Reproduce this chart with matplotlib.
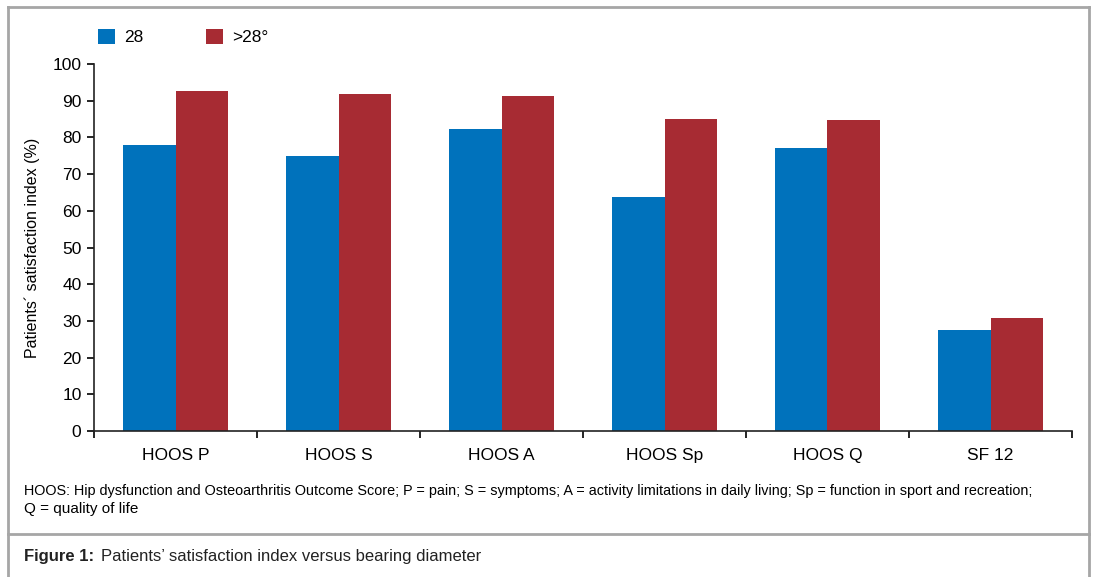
import numpy as np
import matplotlib
matplotlib.use('Agg')
import matplotlib.pyplot as plt
from matplotlib.lines import Line2D

plt.rcParams['font.family'] = ['Liberation Sans', 'DejaVu Sans']

categories = ['HOOS P', 'HOOS S', 'HOOS A', 'HOOS Sp', 'HOOS Q', 'SF 12']
vals_28 = [78, 75, 82.3, 63.8, 77.1, 27.5]
vals_gt28 = [92.6, 91.8, 91.3, 85.0, 84.7, 30.8]
series_names = ['28', '>28°']
yticks = list(range(0, 101, 10))

blue = '#0072BC'
red = '#A72B33'
border = '#A6A6A6'
W, H = 1093, 577

fig = plt.figure(figsize=(W / 100, H / 100), dpi=100)
ax = fig.add_axes([94 / W, 1 - 431 / H, (1072 - 94) / W, (431 - 64) / H])

x = np.arange(len(categories))
w = 0.325
ax.bar(x - w / 2, vals_28, w, color=blue, label=series_names[0])
ax.bar(x + w / 2, vals_gt28, w, color=red, label=series_names[1])

ax.set_xlim(-0.5, len(categories) - 0.5)
ax.set_ylim(0, 100)
ax.set_yticks(yticks)
ax.set_xticks(x)
ax.set_xticklabels(categories, fontsize=12.5, va='baseline')
ax.set_xticks(np.arange(-0.5, len(categories), 1), minor=True)
ax.tick_params(axis='x', which='major', length=0, pad=21)
ax.tick_params(axis='x', which='minor', length=5, width=1.2, direction='out')
ax.tick_params(axis='y', length=5, width=1.2, labelsize=12.5, pad=4)
for s in ['top', 'right']:
    ax.spines[s].set_visible(False)
for s in ['left', 'bottom']:
    ax.spines[s].set_linewidth(1.2)
    ax.spines[s].set_color('#222222')
ax.set_ylabel('Patients\u00b4 satisfaction index (%)', fontsize=11.5, labelpad=9)

ax.legend(loc='upper left', bbox_to_anchor=(-0.003, 1.115), ncol=2, frameon=False,
          fontsize=12.5, handlelength=1.0, handleheight=1.0, columnspacing=3.6,
          handletextpad=0.5, borderaxespad=0)

# frame around the figure and caption
fig.add_artist(Line2D([8 / W, 8 / W], [0, 1 - 7 / H], color=border, lw=2))
fig.add_artist(Line2D([8 / W, 1089 / W], [1 - 7 / H, 1 - 7 / H], color=border, lw=2))
fig.add_artist(Line2D([1089 / W, 1089 / W], [0, 1 - 7 / H], color=border, lw=2))
fig.add_artist(Line2D([8 / W, 1089 / W], [1 - 534 / H, 1 - 534 / H], color=border, lw=2))

renderer = fig.canvas.get_renderer()


def fit_text(xpx, ypx, s, width_px, size, **kw):
    t = fig.text(xpx / W, 1 - ypx / H, s, fontsize=size, va='center', ha='left', **kw)
    cur = t.get_window_extent(renderer).width
    t.set_fontsize(size * width_px / cur)
    return t


fit_text(24, 491, 'HOOS: Hip dysfunction and Osteoarthritis Outcome Score; P = pain; S = symptoms; '
         'A = activity limitations in daily living; Sp = function in sport and recreation;',
         1013, 10.5)
fit_text(24, 509, 'Q = quality of life', 116, 10.5)
lab = fig.text(24 / W, 1 - 557 / H, 'Figure 1:', fontsize=12, fontweight='bold',
               va='center', ha='left', color='#222222')
x_end = lab.get_window_extent(renderer).x1
fig.text((x_end + 7) / W, 1 - 557 / H, 'Patients\u2019 satisfaction index versus bearing diameter',
         fontsize=12, va='center', ha='left', color='#222222')

fig.savefig('out.png', dpi=100)
